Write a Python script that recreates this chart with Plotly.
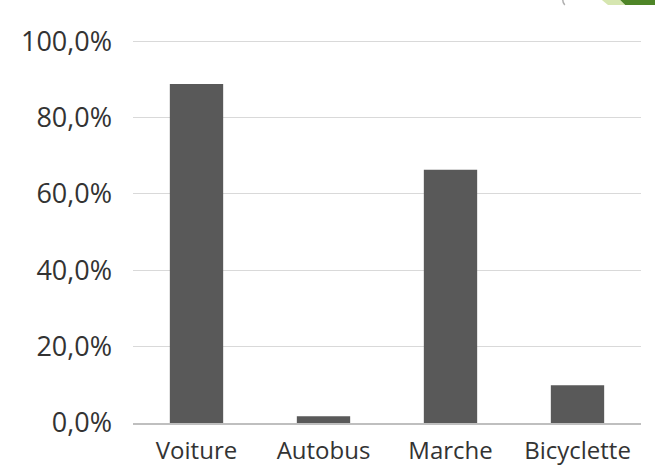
import plotly.graph_objects as go

categories = ["Voiture", "Autobus", "Marche", "Bicyclette"]
values = [0.888, 0.018, 0.663, 0.099]
tick_vals = [0, 0.2, 0.4, 0.6, 0.8, 1.0]

fig = go.Figure(go.Bar(x=categories, y=values, marker_color="#595959",
                       marker_line_width=0, width=0.42))

font = "'Open Sans', Lato, sans-serif"
fig.update_layout(
    width=655, height=468,
    margin=dict(l=133, r=14, t=40, b=45),
    paper_bgcolor="white", plot_bgcolor="white",
    separators=", ",
    showlegend=False,
    font=dict(family=font, size=20, color="#333333"),
)
fig.update_yaxes(range=[0, 1.003], tickvals=tick_vals, tickformat=".1%",
                 showgrid=True, gridcolor="#d9d9d9", gridwidth=1.3,
                 zeroline=False, showline=False, ticks="",
                 automargin=False,
                 ticklabelstandoff=20, tickfont=dict(size=27))
fig.update_xaxes(showline=True, linecolor="#bfbfbf", linewidth=1.5,
                 ticks="outside", ticklen=5, tickcolor="rgba(0,0,0,0)",
                 automargin=False,
                 tickfont=dict(size=24))

# slide decoration top-right
fig.add_shape(type="path", xref="paper", yref="paper",
              path="M 0.923 1.1044 L 0.959 1.1044 L 0.969 1.0914 L 0.935 1.0914 Z",
              fillcolor="#d6e6b0", line_width=0, layer="above")
fig.add_shape(type="path", xref="paper", yref="paper",
              path="M 0.959 1.1044 L 1.03 1.1044 L 1.03 1.0914 L 0.969 1.0914 Z",
              fillcolor="#4e8527", line_width=0, layer="above")
fig.add_shape(type="path", xref="paper", yref="paper",
              path="M 0.846 1.1044 Q 0.846 1.097 0.850 1.0914",
              line=dict(color="#b0b0b0", width=1.5), layer="above")

fig.write_html("out.html", config={"displayModeBar": False},
               post_script="document.body.style.margin='0';")
